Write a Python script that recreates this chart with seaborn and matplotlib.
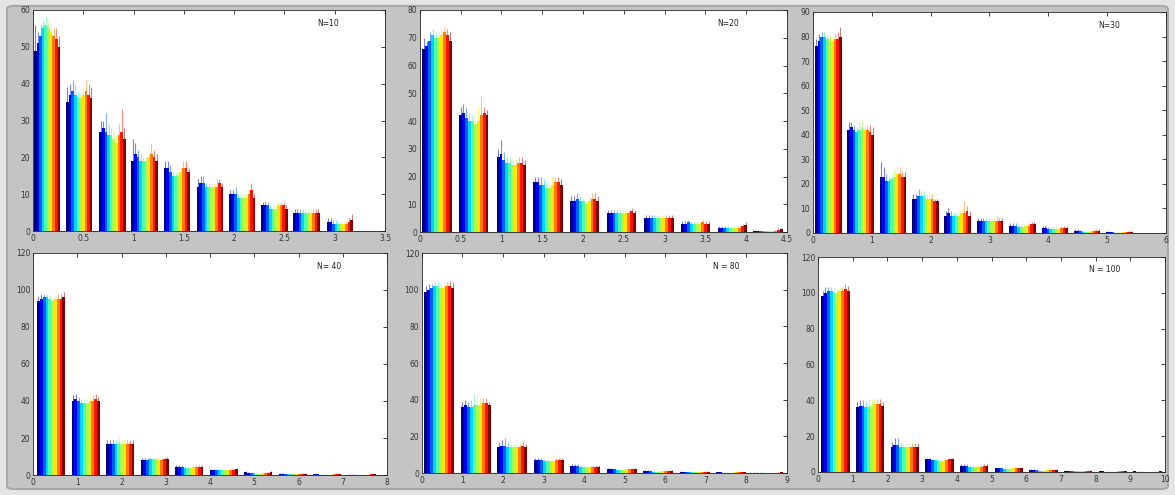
import numpy as np
import pandas as pd
import matplotlib
matplotlib.use("Agg")
import matplotlib.pyplot as plt
from matplotlib.patches import FancyBboxPatch
import seaborn as sns

sns.set_style("white")
plt.rcParams["font.family"] = ["DejaVu Sans"]

# ---- data -------------------------------------------------------------
panel_titles = ["N=10", "N=20", "N=30", "N= 40", "N = 80", "N = 100"]

# bin centres of each histogram
centers_n10 = [0.14, 0.46, 0.79, 1.11, 1.43, 1.76, 2.08, 2.40, 2.72, 3.05]
centers_n20 = [0.21, 0.66, 1.12, 1.57, 2.02, 2.47, 2.93, 3.38, 3.83, 4.27]
centers_n30 = [0.26, 0.81, 1.36, 1.91, 2.46, 3.01, 3.56, 4.11, 4.66, 5.21]
centers_n40 = [0.41, 1.19, 1.97, 2.75, 3.53, 4.31, 5.09, 5.87, 6.65, 7.43]
centers_n80 = [0.43, 1.33, 2.23, 3.13, 4.03, 4.93, 5.83, 6.73, 7.63, 8.53]
centers_n100 = [0.50, 1.50, 2.50, 3.50, 4.50, 5.50, 6.50, 7.50, 8.50, 9.50]

# mean counts: one row per bin, one column per run
counts_n10 = [
    [49, 51, 53, 55, 56, 55, 54, 53, 52, 50],
    [35, 37, 38, 37, 36, 36, 37, 38, 37, 36],
    [27, 28, 27, 26, 26, 25, 24, 26, 27, 25],
    [19, 21, 20, 19, 19, 19, 20, 21, 20, 19],
    [17, 17, 16, 15, 15, 15, 16, 17, 17, 16],
    [12, 13, 13, 12, 12, 12, 12, 12, 13, 12],
    [10, 10, 10, 9, 9, 9, 9, 10, 11, 9],
    [7, 7, 7, 6, 6, 6, 7, 7, 7, 6],
    [5, 5, 5, 5, 5, 5, 5, 5, 5, 5],
    [2.5, 2.5, 2, 2, 2, 2, 2, 2, 2.5, 3],
]
counts_n20 = [
    [66, 67, 69, 71, 70, 70, 71, 72, 71, 69],
    [42, 43, 41, 40, 40, 39, 40, 42, 43, 42],
    [27, 28, 26, 25, 25, 24, 24, 25, 25, 24],
    [18, 18, 17, 17, 16, 16, 17, 18, 18, 17],
    [11, 11, 12, 11, 11, 10, 11, 12, 12, 11],
    [7, 7, 7, 7, 7, 7, 7, 7, 7.5, 7],
    [5, 5, 5, 5, 5, 5, 5, 5, 5, 5],
    [3, 3, 3.5, 3, 3, 3, 3, 3.5, 3, 3],
    [1.5, 1.5, 1.5, 1.5, 1.5, 1.5, 1.5, 1.5, 2, 2.5],
    [0.3, 0.3, 0.2, 0.2, 0.2, 0.3, 0.4, 0.5, 0.8, 1],
]
counts_n30 = [
    [76, 78, 80, 80, 79, 79, 78, 79, 79, 80],
    [42, 43, 42, 41, 42, 43, 42, 42, 41, 40],
    [23, 23, 21, 21, 22, 23, 24, 24, 23, 23],
    [14, 14, 15, 15, 15, 14, 14, 14, 13, 13],
    [7, 8, 7, 7, 7, 7, 8, 8, 9, 7],
    [5, 5, 5, 5, 5, 5, 5, 5, 5, 5],
    [3, 3, 3, 2.5, 2.5, 2.5, 3, 3, 3.5, 3.5],
    [2, 2, 1.5, 1.5, 1.5, 1.5, 1.5, 2, 2, 2],
    [1, 1, 0.8, 0.6, 0.5, 0.5, 0.6, 0.8, 1, 1],
    [0.4, 0.3, 0.3, 0.2, 0.2, 0.2, 0.3, 0.3, 0.4, 0.4],
]
counts_n40 = [
    [94, 95, 96, 96, 95, 94, 95, 95, 95, 96],
    [40, 41, 40, 39, 39, 39, 40, 40, 41, 40],
    [17, 17, 17, 17, 17, 17, 17, 17, 17, 17],
    [8, 8, 8, 8.5, 8.5, 8.5, 8, 8, 8.5, 8.5],
    [4.5, 4.5, 4.5, 4, 4, 4, 4.5, 4.5, 4.5, 4.5],
    [2.5, 2.5, 2.5, 2.5, 2.5, 2.5, 2.5, 2.5, 2.5, 3],
    [1.5, 1.3, 1, 1, 0.8, 0.8, 1, 1, 1.2, 1.5],
    [0.8, 0.7, 0.5, 0.4, 0.4, 0.4, 0.5, 0.6, 0.7, 0.8],
    [0.3, 0.3, 0.2, 0.2, 0.2, 0.2, 0.2, 0.3, 0.3, 0.4],
    [0.2, 0.2, 0.1, 0.1, 0.1, 0.1, 0.1, 0.2, 0.3, 0.4],
]
counts_n80 = [
    [99, 100, 101, 102, 102, 101, 101, 102, 102, 101],
    [36, 37, 36, 36, 37, 37, 37, 38, 38, 37],
    [14, 15, 15, 14, 14, 14, 14, 14, 15, 14],
    [7, 7, 7, 6.5, 6.5, 6.5, 6.5, 7, 7, 7],
    [4, 4, 4, 3.5, 3.5, 3.5, 3.5, 3.5, 3.5, 3.5],
    [2, 2, 2, 1.8, 1.8, 1.8, 2, 2, 2.2, 2.2],
    [1, 1, 0.9, 0.8, 0.8, 0.8, 0.9, 1, 1, 1],
    [0.6, 0.5, 0.4, 0.4, 0.3, 0.3, 0.4, 0.5, 0.6, 0.6],
    [0.3, 0.3, 0.2, 0.2, 0.2, 0.2, 0.3, 0.3, 0.4, 0.4],
    [0.2, 0.2, 0.1, 0.1, 0.1, 0.1, 0.1, 0.2, 0.2, 0.3],
]
counts_n100 = [
    [98, 100, 101, 101, 100, 100, 101, 101, 102, 101],
    [36, 37, 37, 36, 36, 37, 38, 38, 38, 37],
    [14, 15, 15, 14, 14, 14, 14, 14, 14, 14],
    [7, 7, 6.5, 6.5, 6, 6, 6, 6.5, 7, 7],
    [3.5, 3.5, 3.5, 3, 3, 3, 3, 3, 3.5, 3.5],
    [2, 2, 2, 1.8, 1.8, 1.8, 2, 2, 2, 2],
    [1, 1, 0.9, 0.8, 0.8, 0.8, 0.9, 1, 1, 1],
    [0.6, 0.5, 0.4, 0.4, 0.3, 0.3, 0.4, 0.5, 0.6, 0.6],
    [0.4, 0.3, 0.2, 0.2, 0.2, 0.2, 0.3, 0.3, 0.4, 0.4],
    [0.3, 0.2, 0.1, 0.1, 0.1, 0.1, 0.1, 0.2, 0.2, 0.3],
]

# error bar half-lengths, same layout as the counts
errors_n10 = [
    [7, 3, 3, 2, 2, 2, 2, 2, 3, 3],
    [4, 3, 3, 3, 2, 2, 2, 3, 3, 3],
    [3, 2, 5, 3, 2, 2, 2, 3, 6, 3],
    [6, 3, 2, 2, 1, 1, 2, 3, 2, 2],
    [2, 2, 2, 1, 1, 1, 1, 2, 2, 1],
    [2, 2, 2, 1, 1, 1, 1, 2, 1, 1],
    [1, 1, 2, 1, 1, 1, 1, 1, 2, 1],
    [1, 1, 1, 1, 1, 1, 1, 1, 1, 1],
    [1, 1, 1, 1, 1, 1, 1, 1, 1, 1],
    [1, 1, 1, 1, 0.5, 0.5, 0.5, 0.5, 1, 1.5],
]
errors_n20 = [
    [4, 2, 3, 2, 2, 2, 3, 2, 2, 3],
    [3, 3, 4, 3, 2, 3, 5, 7, 2, 2],
    [3, 5, 3, 2, 2, 2, 2, 2, 2, 2],
    [2, 2, 3, 2, 2, 2, 3, 2, 2, 2],
    [2, 2, 2, 2, 1, 1, 2, 2, 2, 2],
    [1, 1, 1, 1, 1, 1, 1, 1, 1, 1],
    [1, 1, 1, 1, 1, 1, 1, 1, 1, 1],
    [1, 1, 1, 1, 1, 1, 1, 1, 1, 1],
    [0.5, 0.5, 0.5, 0.5, 0.5, 0.5, 0.5, 0.5, 0.8, 1],
    [0.3, 0.3, 0.3, 0.3, 0.3, 0.3, 0.3, 0.3, 0.5, 0.5],
]
errors_n30 = [
    [3, 3, 2, 2, 2, 2, 2, 2, 3, 4],
    [3, 2, 2, 2, 3, 3, 2, 2, 3, 3],
    [6, 4, 3, 2, 2, 3, 4, 3, 2, 2],
    [2, 2, 3, 2, 2, 2, 2, 2, 1, 1],
    [2, 2, 2, 1, 1, 2, 2, 5, 2, 2],
    [1, 1, 1, 1, 1, 1, 1, 2, 1, 1],
    [1, 1, 1, 1, 1, 1, 1, 1, 1, 1],
    [1, 1, 1, 1, 1, 1, 1, 1, 1, 1],
    [0.5, 0.5, 0.5, 0.5, 0.5, 0.5, 0.5, 0.5, 0.5, 0.5],
    [0.3, 0.3, 0.3, 0.3, 0.3, 0.3, 0.3, 0.3, 0.3, 0.3],
]
errors_n40 = [
    [3, 3, 2, 2, 2, 2, 2, 3, 3, 3],
    [3, 3, 2, 2, 2, 2, 2, 3, 3, 2],
    [2, 2, 2, 2, 3, 2, 2, 2, 2, 2],
    [1, 1, 1, 1, 1, 1, 1, 1, 1, 1],
    [1, 1, 1, 1, 1, 1, 1, 1, 1, 1],
    [0.5, 0.5, 0.5, 0.5, 0.5, 0.5, 0.5, 0.5, 0.5, 0.5],
    [0.5, 0.5, 0.5, 0.5, 0.5, 0.5, 0.5, 0.5, 0.5, 0.5],
    [0.3, 0.3, 0.3, 0.3, 0.3, 0.3, 0.3, 0.3, 0.3, 0.3],
    [0.3, 0.3, 0.3, 0.3, 0.3, 0.3, 0.3, 0.3, 0.3, 0.3],
    [0.2, 0.2, 0.2, 0.2, 0.2, 0.2, 0.2, 0.2, 0.2, 0.2],
]
errors_n80 = [
    [3, 3, 2, 2, 2, 2, 2, 2, 3, 3],
    [3, 3, 3, 4, 6, 6, 4, 3, 3, 2],
    [3, 3, 4, 3, 2, 2, 2, 2, 2, 2],
    [1, 1, 1, 1, 1, 1, 1, 1, 1, 1],
    [1, 1, 1, 1, 1, 1, 1, 1, 1, 1],
    [0.5, 0.5, 0.5, 0.5, 0.5, 0.5, 0.5, 0.5, 0.5, 0.5],
    [0.4, 0.4, 0.4, 0.4, 0.4, 0.4, 0.4, 0.4, 0.4, 0.4],
    [0.3, 0.3, 0.3, 0.3, 0.3, 0.3, 0.3, 0.3, 0.3, 0.3],
    [0.2, 0.2, 0.2, 0.2, 0.2, 0.2, 0.2, 0.2, 0.2, 0.2],
    [0.2, 0.2, 0.2, 0.2, 0.2, 0.2, 0.2, 0.2, 0.2, 0.2],
]
errors_n100 = [
    [3, 3, 2, 2, 2, 2, 2, 2, 3, 3],
    [3, 3, 3, 3, 5, 4, 3, 3, 3, 2],
    [3, 4, 4, 3, 2, 2, 2, 2, 2, 2],
    [1, 1, 1, 1, 1, 1, 1, 1, 1, 1],
    [1, 1, 1, 1, 1, 1, 1, 1, 1, 1],
    [0.5, 0.5, 0.5, 0.5, 0.5, 0.5, 0.5, 0.5, 0.5, 0.5],
    [0.4, 0.4, 0.4, 0.4, 0.4, 0.4, 0.4, 0.4, 0.4, 0.4],
    [0.3, 0.3, 0.3, 0.3, 0.3, 0.3, 0.3, 0.3, 0.3, 0.3],
    [0.2, 0.2, 0.2, 0.2, 0.2, 0.2, 0.2, 0.2, 0.2, 0.2],
    [0.2, 0.2, 0.2, 0.2, 0.2, 0.2, 0.2, 0.2, 0.2, 0.2],
]

xticks_n10 = [0, 0.5, 1, 1.5, 2, 2.5, 3, 3.5]
xticks_n20 = [0, 0.5, 1, 1.5, 2, 2.5, 3, 3.5, 4, 4.5]
xticks_n30 = [0, 1, 2, 3, 4, 5, 6]
xticks_n40 = [0, 1, 2, 3, 4, 5, 6, 7, 8]
xticks_n80 = [0, 1, 2, 3, 4, 5, 6, 7, 8, 9]
xticks_n100 = [0, 1, 2, 3, 4, 5, 6, 7, 8, 9, 10]

yticks_n10 = [0, 10, 20, 30, 40, 50, 60]
yticks_n20 = [0, 10, 20, 30, 40, 50, 60, 70, 80]
yticks_n30 = [0, 10, 20, 30, 40, 50, 60, 70, 80, 90]
yticks_big = [0, 20, 40, 60, 80, 100, 120]

panels = [
    (panel_titles[0], centers_n10, counts_n10, errors_n10, xticks_n10, yticks_n10),
    (panel_titles[1], centers_n20, counts_n20, errors_n20, xticks_n20, yticks_n20),
    (panel_titles[2], centers_n30, counts_n30, errors_n30, xticks_n30, yticks_n30),
    (panel_titles[3], centers_n40, counts_n40, errors_n40, xticks_n40, yticks_big),
    (panel_titles[4], centers_n80, counts_n80, errors_n80, xticks_n80, yticks_big),
    (panel_titles[5], centers_n100, counts_n100, errors_n100, xticks_n100, yticks_big),
]

# axes rectangles in figure fractions
axes_rects = [
    [0.0281, 0.5333, 0.2996, 0.4465],
    [0.3574, 0.5313, 0.3123, 0.4485],
    [0.6919, 0.5293, 0.3004, 0.4465],
    [0.0281, 0.0404, 0.3013, 0.4485],
    [0.3591, 0.0444, 0.3106, 0.4444],
    [0.6962, 0.0465, 0.2953, 0.4343],
]

n_runs = 10
jet = matplotlib.colormaps["jet"]
run_colors = [jet(v) for v in np.linspace(0, 1, n_runs)]
run_names = [f"run{i + 1}" for i in range(n_runs)]

# ---- figure -----------------------------------------------------------
fig = plt.figure(figsize=(11.75, 4.95), dpi=100, facecolor="#e4e4e4")
frame = FancyBboxPatch((0.006, 0.012), 0.988, 0.976,
                       boxstyle="round,pad=0,rounding_size=0.006",
                       transform=fig.transFigure, facecolor="#c4c4c4",
                       edgecolor="#a8a8a8", linewidth=1.5)
frame.set_zorder(-10)
fig.add_artist(frame)

for (title, centers, counts, errors, xt, yt), rect in zip(panels, axes_rects):
    ax = fig.add_axes(rect)
    ax.set_zorder(1)
    ax.set_facecolor("white")
    rows = []
    for ci, c in enumerate(centers):
        for ri in range(n_runs):
            rows.append({"center": c, "run": run_names[ri], "count": counts[ci][ri]})
    df = pd.DataFrame(rows)
    sns.barplot(data=df, x="center", y="count", hue="run", hue_order=run_names,
                palette=run_colors, native_scale=True, width=0.82, gap=0,
                errorbar=None, legend=False, linewidth=0, edgecolor="none",
                saturation=1, ax=ax)

    # error bars on each bar, located from the drawn bar geometry
    bars = [p for p in ax.patches if p.get_width() > 0]
    cen = np.asarray(centers)
    by_group = {}
    for p in bars:
        mid = p.get_x() + p.get_width() / 2
        g = int(np.argmin(np.abs(cen - mid)))
        by_group.setdefault(g, []).append(p)
    for g, plist in by_group.items():
        plist.sort(key=lambda p: p.get_x())
        for ri, p in enumerate(plist[:n_runs]):
            mid = p.get_x() + p.get_width() / 2
            h = p.get_height()
            e = errors[g][ri]
            col = run_colors[ri]
            ax.vlines(mid, h - e, h + e, colors=[col], linewidth=0.8,
                      alpha=0.5, zorder=3)

    ax.set_xlim(xt[0], xt[-1])
    ax.set_ylim(yt[0], yt[-1])
    ax.set_xticks(xt)
    ax.set_yticks(yt)
    ax.set_xticklabels([f"{v:g}" for v in xt])
    ax.set_yticklabels([f"{v:g}" for v in yt])
    ax.set_xlabel("")
    ax.set_ylabel("")
    ax.tick_params(direction="in", length=3, width=0.6, labelsize=5.5,
                   labelcolor="#333333", top=True, right=True, pad=2)
    for s in ax.spines.values():
        s.set_visible(True)
        s.set_linewidth(0.6)
        s.set_color("#222222")
    ax.text(0.87, 0.94, title, transform=ax.transAxes, ha="right", va="center",
            fontsize=5.5, color="#222222")

fig.savefig("out.png", dpi=100, facecolor=fig.get_facecolor())
